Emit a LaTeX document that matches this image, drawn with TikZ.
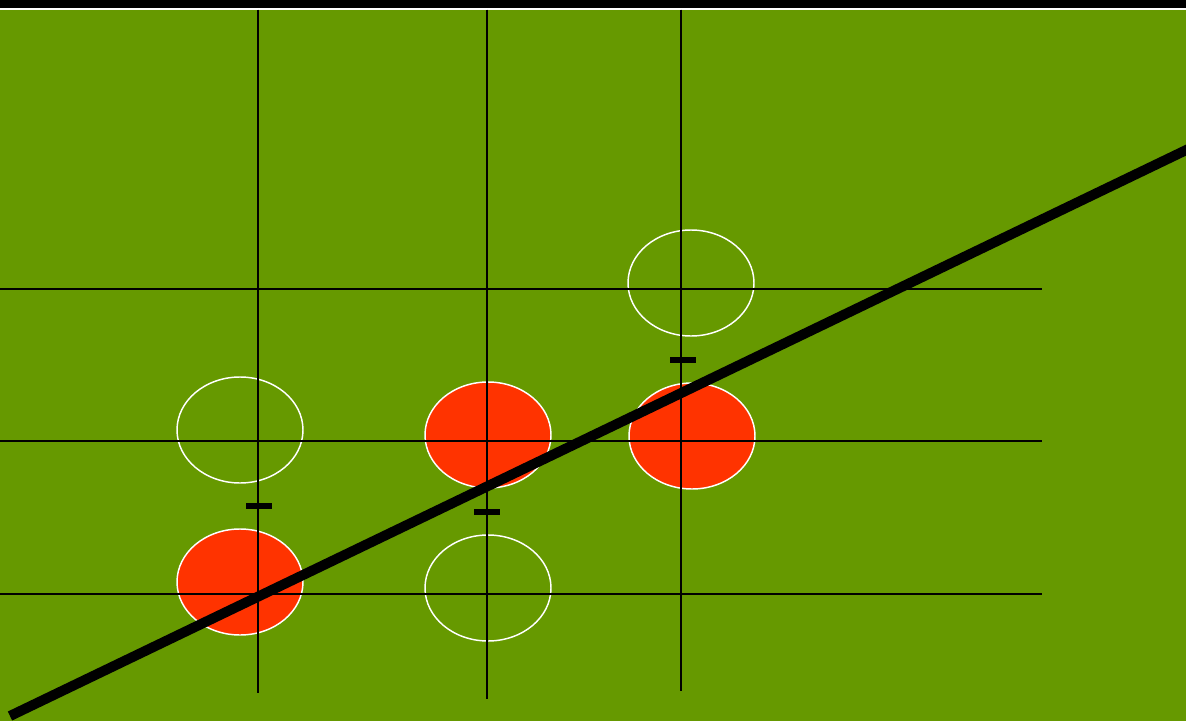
\documentclass[tikz,border=0pt]{standalone}
\usetikzlibrary{shapes.geometric}
\definecolor{bggreen}{HTML}{669900}
\definecolor{dotred}{HTML}{FF3300}
\begin{document}
\begin{tikzpicture}[x=0.75pt,y=-0.75pt,
  opendot/.style={ellipse,draw=white,line width=1.1pt,minimum width=94.5pt,minimum height=79.5pt,inner sep=0pt},
  filldot/.style={opendot,fill=dotred},
  gridline/.style={black,line width=1.4pt},
  minusbar/.style={black,line width=4pt},
  fitline/.style={black,line width=7.5pt}]
\useasboundingbox (0,0) rectangle (1186,721);
\clip (0,0) rectangle (1186,721);
\fill[bggreen] (0,0) rectangle (1186,721);
\fill[black] (0,0) rectangle (1186,7.5);
\fill[white] (0,7.5) rectangle (1186,9.5);
% circles
\node[filldot] (f1) at (240,582) {};
\node[filldot] (f2) at (488,435) {};
\node[filldot] (f3) at (692,436) {};
\node[opendot] (o1) at (240,430) {};
\node[opendot] (o2) at (488,588) {};
\node[opendot] (o3) at (691,283) {};
% grid
\draw[gridline] (258,9.5) -- (258,693);
\draw[gridline] (487,9.5) -- (487,699);
\draw[gridline] (681,9.5) -- (681,691);
\draw[gridline] (0,289) -- (1042,289);
\draw[gridline] (0,441) -- (1042,441);
\draw[gridline] (0,594) -- (1042,594);
% minus marks
\draw[minusbar] (246,506) -- (272,506);
\draw[minusbar] (474,512) -- (500,512);
\draw[minusbar] (670,360) -- (696,360);
% fit line
\coordinate (a) at (10,716);
\coordinate (b) at (1206,140.5);
\draw[fitline] (a) -- (b);
\end{tikzpicture}
\end{document}
